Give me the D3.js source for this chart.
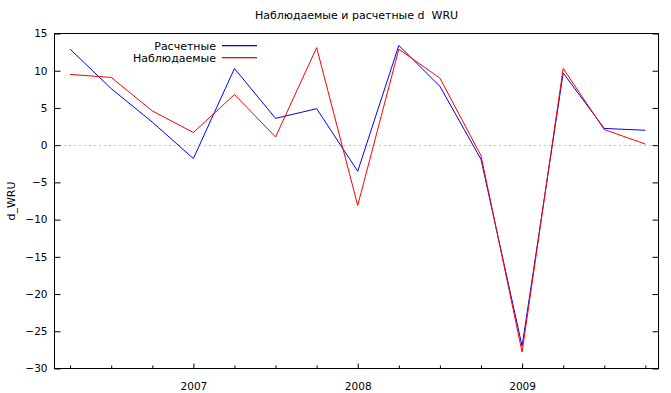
<!DOCTYPE html>
<html><head><meta charset="utf-8">
<script src="https://cdn.jsdelivr.net/npm/d3@7"></script>
<style>body{margin:0;background:#fff}svg{display:block}text{font-family:"DejaVu Sans",Verdana,sans-serif;fill:#000}</style>
</head><body>
<script>
const periods = [2006.25,2006.5,2006.75,2007,2007.25,2007.5,2007.75,2008,2008.25,2008.5,2008.75,2009,2009.25,2009.5,2009.75];
const fitted   = [12.9,7.6,3.1,-1.8,10.3,3.6,4.9,-3.5,13.4,7.9,-1.9,-27.0,9.7,2.25,2.0];
const observed = [9.5,9.1,4.6,1.7,6.8,1.1,13.1,-8.1,12.9,9.0,-1.4,-27.8,10.3,2.1,0.15];
const yTicks = [15,10,5,0,-5,-10,-15,-20,-25,-30];
const yearTicks = [2007,2008,2009];
const quarterTicks = [2006.25,2006.5,2006.75,2007.25,2007.5,2007.75,2008.25,2008.5,2008.75,2009.25,2009.5,2009.75];
const seriesNames = ["Расчетные","Наблюдаемые"];
const seriesColors = ["#0000ff","#ff0000"];
const title = "Наблюдаемые и расчетные d\u00a0\u00a0WRU";
const yLabel = "d_WRU";

const W=671,H=393, L=54.5, R=658.5, T=33.5, B=368.5;
const svg=d3.select("body").append("svg").attr("width",W).attr("height",H);
const x=d3.scaleLinear().domain([2006.155,2009.83]).range([L,R]);
const y=d3.scaleLinear().domain([-30,15]).range([B,T]);

// zero line
svg.append("line").attr("x1",L).attr("x2",R).attr("y1",Math.round(y(0))+0.5).attr("y2",Math.round(y(0))+0.5)
  .attr("stroke","#888").attr("stroke-dasharray","1,4");

// y axis left
const yl=svg.append("g").attr("transform",`translate(${L},0)`)
  .call(d3.axisLeft(y).tickValues(yTicks).tickSize(-6).tickPadding(7).tickFormat(d3.format("d")));
yl.select(".domain").remove();
yl.selectAll("text").attr("font-size","10.5px").attr("font-family","DejaVu Sans");
yl.selectAll("line").attr("stroke","#000");
// y axis right ticks
const yr=svg.append("g").attr("transform",`translate(${R},0)`)
  .call(d3.axisRight(y).tickValues(yTicks).tickSize(-6).tickFormat(""));
yr.select(".domain").remove();
// x axis
const xa=svg.append("g").attr("transform",`translate(0,${B})`)
  .call(d3.axisBottom(x).tickValues(yearTicks).tickSize(-5).tickPadding(14).tickFormat(d3.format("d")));
xa.select(".domain").remove();
xa.selectAll("text").attr("font-size","10.5px").attr("font-family","DejaVu Sans");
const xm=svg.append("g").attr("transform",`translate(0,${B})`)
  .call(d3.axisBottom(x).tickValues(quarterTicks).tickSize(-3).tickFormat(""));
xm.select(".domain").remove();

// frame
svg.append("rect").attr("x",L).attr("y",T).attr("width",R-L).attr("height",B-T)
  .attr("fill","none").attr("stroke","#000").attr("stroke-width",1);

const line=d3.line().x((d,i)=>x(periods[i])).y(d=>y(d));
svg.append("path").datum(fitted).attr("d",line).attr("fill","none").attr("stroke",seriesColors[0]).attr("stroke-width",1);
svg.append("path").datum(observed).attr("d",line).attr("fill","none").attr("stroke",seriesColors[1]).attr("stroke-width",1);

// legend
[45,57].forEach((yy,i)=>{
  svg.append("text").attr("x",216).attr("y",yy+4.5).attr("text-anchor","end").attr("font-size","11px").text(seriesNames[i]);
  svg.append("rect").attr("x",222).attr("y",yy).attr("width",35).attr("height",1.3).attr("fill",seriesColors[i]);
});

// title
svg.append("text").attr("x",(L+R)/2).attr("y",19).attr("text-anchor","middle").attr("font-size","11px").text(title);
// y label
svg.append("text").attr("transform",`translate(15,${(T+B)/2}) rotate(-90)`).attr("text-anchor","middle").attr("font-size","11px").text(yLabel);
</script>
</body></html>
